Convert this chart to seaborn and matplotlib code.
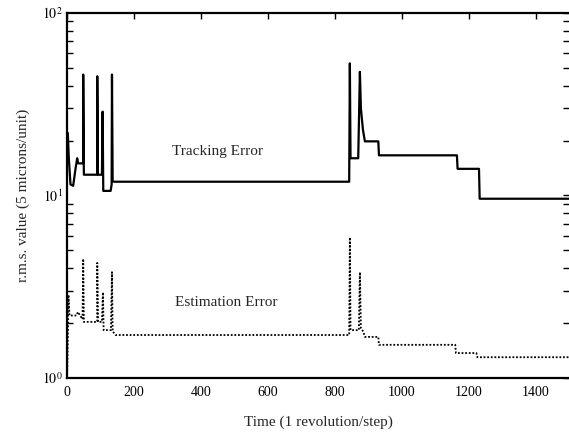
import matplotlib
matplotlib.use("Agg")
import matplotlib.pyplot as plt
import seaborn as sns
import pandas as pd
import numpy as np
from matplotlib.ticker import LogLocator, NullFormatter, FixedLocator

# ---- data ----
track_t = [0, 2, 5, 10, 18, 25, 30, 33, 46, 48, 48, 50, 90, 90, 92, 104, 106, 108, 130, 133,
           134, 136, 140, 843, 845, 847, 870, 875, 878, 884, 890, 930, 932, 1165, 1167, 1231,
           1233, 1500]
track_v = [17, 22, 16, 11.5, 11.3, 14, 16, 15, 15, 15, 46, 13, 13, 45, 13, 13, 28.8, 10.6, 10.6, 11.5,
           46, 12, 11.9, 11.9, 53, 16, 16, 47.6, 30, 23, 19.8, 19.8, 16.6, 16.6, 14, 14,
           9.6, 9.6]

est_t = [0, 2, 4, 7, 28, 32, 46, 48, 50, 90, 90, 92, 104, 107, 109, 131, 134, 136, 145, 843,
         845, 847, 872, 875, 878, 885, 890, 930, 932, 1160, 1162, 1223, 1226, 1500]
est_v = [1.05, 1.6, 2.85, 2.2, 2.2, 2.3, 2.1, 4.5, 2.03, 2.03, 4.27, 2.03, 2.03, 2.95, 1.83, 1.83,
         3.8, 1.8, 1.72, 1.72, 5.9, 1.83, 1.83, 3.8, 1.87, 1.8, 1.68, 1.68, 1.52, 1.52, 1.37,
         1.37, 1.30, 1.30]

x_ticks = [0, 200, 400, 600, 800, 1000, 1200, 1400]
y_ticks = [1, 10, 100]
y_tick_labels = [r"$10^0$", r"$10^1$", r"$10^2$"]

track_label = "Tracking Error"
est_label = "Estimation Error"
x_label = "Time (1 revolution/step)"
y_label = "r.m.s. value (5 microns/unit)"

# ---- plotting ----
sns.set_theme(style="white")
plt.rcParams["font.family"] = ["Liberation Serif", "DejaVu Serif"]
plt.rcParams["mathtext.fontset"] = "stix"

fig = plt.figure(figsize=(5.69, 4.33), dpi=100)
ax = fig.add_axes([0.118, 0.127, 0.882, 0.843])

df_track = pd.DataFrame({"t": track_t, "v": track_v})
df_est = pd.DataFrame({"t": est_t, "v": est_v})

sns.lineplot(data=df_track, x="t", y="v", ax=ax, sort=False, estimator=None,
             color="black", linewidth=1.6)
sns.lineplot(data=df_est, x="t", y="v", ax=ax, sort=False, estimator=None,
             color="black", linewidth=1.3, linestyle=(0, (1, 1)))

ax.set_yscale("log")
ax.set_xlim(0, 1500)
ax.set_ylim(1, 100)

ax.xaxis.set_major_locator(FixedLocator(x_ticks))
ax.set_xticklabels([str(v) for v in x_ticks])
ax.yaxis.set_major_locator(FixedLocator(y_ticks))
ax.set_yticklabels(y_tick_labels)
ax.yaxis.set_minor_locator(LogLocator(base=10, subs=np.arange(2, 10)))
ax.yaxis.set_minor_formatter(NullFormatter())

ax.tick_params(axis="both", which="both", direction="in", colors="black",
               labelsize=10, top=True, right=True)
ax.tick_params(axis="both", which="major", length=4, width=1)
ax.tick_params(axis="y", which="minor", length=4, width=1, left=True, right=True)
ax.tick_params(axis="x", pad=6)
ax.tick_params(axis="y", pad=3)

for side in ["left", "bottom", "top"]:
    ax.spines[side].set_visible(True)
    ax.spines[side].set_color("black")
    ax.spines[side].set_linewidth(1.6)
ax.spines["right"].set_visible(False)

ax.set_xlabel(x_label, fontsize=11, labelpad=12)
ax.set_ylabel(y_label, fontsize=11, labelpad=9)

ax.text(448, 17.5, track_label, ha="center", va="center", fontsize=11)
ax.text(475, 2.58, est_label, ha="center", va="center", fontsize=11)

fig.savefig("out.png", dpi=100)
